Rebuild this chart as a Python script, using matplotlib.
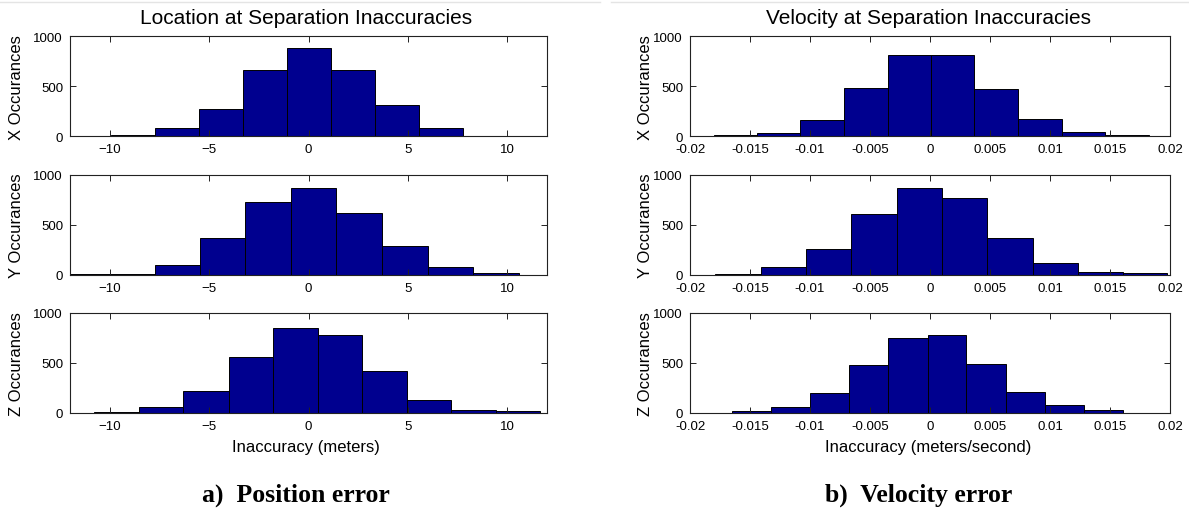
import matplotlib
matplotlib.use('Agg')
import matplotlib.pyplot as plt
from matplotlib.lines import Line2D
import numpy as np

plt.rcParams['font.family'] = ['Liberation Sans', 'DejaVu Sans']

# histogram bin edges and counts
pos_x_edges = [-12.15, -9.94, -7.73, -5.52, -3.31, -1.10, 1.12, 3.33, 5.54, 7.79, 10.0]
pos_x_counts = [6, 17, 84, 275, 661, 883, 661, 315, 87, 7]
pos_y_edges = [-12.33, -10.03, -7.73, -5.48, -3.21, -0.87, 1.40, 3.71, 6.00, 8.27, 10.58]
pos_y_counts = [3, 5, 100, 367, 730, 870, 620, 290, 80, 13]
pos_z_edges = [-10.77, -8.52, -6.29, -4.02, -1.81, 0.48, 2.69, 4.96, 7.17, 9.42, 11.63]
pos_z_counts = [8, 60, 223, 563, 853, 783, 423, 133, 27, 17]

vel_x_edges = [-0.01804, -0.01443, -0.01082, -0.00715, -0.00354, 0.00006,
               0.0037, 0.00737, 0.01098, 0.01459, 0.01826]
vel_x_counts = [10, 33, 161, 487, 812, 812, 477, 178, 44, 13]
vel_y_edges = [-0.01788, -0.01412, -0.01035, -0.00659, -0.00276, 0.0010,
               0.00477, 0.00856, 0.01233, 0.0161, 0.01976]
vel_y_counts = [10, 73, 257, 607, 863, 763, 367, 113, 27, 13]
vel_z_edges = [-0.01647, -0.01324, -0.00998, -0.00674, -0.00351, -0.00019,
               0.00304, 0.00634, 0.00957, 0.01286, 0.01609]
vel_z_counts = [17, 60, 203, 477, 750, 783, 487, 213, 83, 27]

row_names = ['X Occurances', 'Y Occurances', 'Z Occurances']
pos_ticks = [-10, -5, 0, 5, 10]
vel_ticks = [-0.02, -0.015, -0.01, -0.005, 0, 0.005, 0.01, 0.015, 0.02]
vel_tick_labels = ['-0.02', '-0.015', '-0.01', '-0.005', '0', '0.005', '0.01', '0.015', '0.02']

W, H = 1189, 510
fig = plt.figure(figsize=(W / 100, H / 100), dpi=100)

bar_color = '#00008F'
row_tops = [37.3, 175.7, 314]
ax_h = 100
left_x = (70, 547)
right_x = (690, 1170)

def px_axes(x0, x1, top):
    return fig.add_axes([x0 / W, 1 - (top + ax_h) / H, (x1 - x0) / W, ax_h / H])

def style(ax):
    ax.set_ylim(0, 1000)
    ax.set_yticks([0, 500, 1000])
    ax.tick_params(direction='in', length=4, width=0.7, top=True, right=True,
                   labelsize=9.5, pad=5, colors='#222222', labelcolor='black')
    for s in ax.spines.values():
        s.set_linewidth(0.8)
        s.set_color('#222222')

def ylabel_at(ax, text, x_px, ax_x0, ax_x1):
    ax.set_ylabel(text, fontsize=12)
    ax.yaxis.set_label_coords((x_px - ax_x0) / (ax_x1 - ax_x0), 0.5)
    ax.yaxis.label.set_va('center')

pos_data = [(pos_x_edges, pos_x_counts), (pos_y_edges, pos_y_counts), (pos_z_edges, pos_z_counts)]
vel_data = [(vel_x_edges, vel_x_counts), (vel_y_edges, vel_y_counts), (vel_z_edges, vel_z_counts)]

for i in range(3):
    # left column: position
    ax = px_axes(left_x[0], left_x[1], row_tops[i])
    e, c = pos_data[i]
    ax.bar(e[:-1], c, width=np.diff(e), align='edge', color=bar_color,
           edgecolor='black', linewidth=0.7)
    ax.set_xlim(-12, 12)
    ax.set_xticks(pos_ticks)
    style(ax)
    ylabel_at(ax, row_names[i], 17, *left_x)

    # right column: velocity
    ax = px_axes(right_x[0], right_x[1], row_tops[i])
    e, c = vel_data[i]
    ax.bar(e[:-1], c, width=np.diff(e), align='edge', color=bar_color,
           edgecolor='black', linewidth=0.7)
    ax.set_xlim(-0.02, 0.02)
    ax.set_xticks(vel_ticks)
    ax.set_xticklabels(vel_tick_labels)
    style(ax)
    ylabel_at(ax, row_names[i], 645, *right_x)

fig.text(306 / W, 1 - 448 / H, 'Inaccuracy (meters)', ha='center', va='center', fontsize=12)
fig.text(928 / W, 1 - 448 / H, 'Inaccuracy (meters/second)', ha='center', va='center', fontsize=12)

fig.text(306 / W, 1 - 19 / H, 'Location at Separation Inaccuracies',
         ha='center', va='center', fontsize=15)
fig.text(928 / W, 1 - 19 / H, 'Velocity at Separation Inaccuracies',
         ha='center', va='center', fontsize=15)

fig.text(296 / W, 1 - 495 / H, 'a)  Position error', ha='center', va='center',
         fontsize=18.5, fontweight='bold', family=['Liberation Serif'])
fig.text(919 / W, 1 - 495 / H, 'b)  Velocity error', ha='center', va='center',
         fontsize=18.5, fontweight='bold', family=['Liberation Serif'])

# faint frame line along the top of both pictures
fig.add_artist(Line2D([0, 600 / W], [1 - 2.5 / H] * 2, color='#e4e4e4', lw=1))
fig.add_artist(Line2D([611 / W, 1], [1 - 2.5 / H] * 2, color='#e4e4e4', lw=1))

fig.savefig('out.png', dpi=100)
